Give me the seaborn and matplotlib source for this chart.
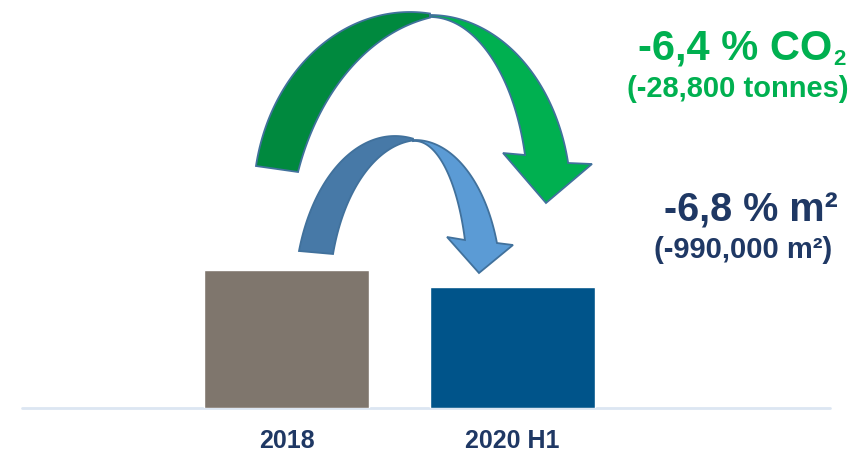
import numpy as np
import pandas as pd
import matplotlib
matplotlib.use("Agg")
import matplotlib.pyplot as plt
import seaborn as sns
from matplotlib.patches import Polygon
from matplotlib.transforms import Affine2D

# ---- data ----
categories = ["2018", "2020 H1"]
values = [100.0, 87.7]
bar_colors = ["#7F766D", "#00548A"]
co2_main = "-6,4 % CO"
co2_sub = "2"
co2_detail = "(-28,800 tonnes)"
area_main = "-6,8 % m²"
area_detail = "(-990,000 m²)"

GREEN = "#00B050"
NAVY = "#1F3864"

sns.set_theme(style="white")
plt.rcParams["font.family"] = ["Liberation Sans", "DejaVu Sans"]

W, H = 856, 454
fig = plt.figure(figsize=(W / 100, H / 100), dpi=100)
ax = fig.add_axes([22 / W, 46 / H, 808 / W, 408 / H])

df = pd.DataFrame({"period": categories, "value": values})
sns.barplot(data=df, x="period", y="value", hue="period", palette=bar_colors,
            width=0.73, saturation=1, legend=False, ax=ax, zorder=3)
ax.set_xlim(-1.1704, 2.4049)
ax.set_ylim(0, 295.65)
for s in ax.spines.values():
    s.set_visible(False)
ax.axhline(0, color="#DCE6F2", lw=2, zorder=1, clip_on=False)
ax.set_yticks([])
ax.set_xlabel("")
ax.set_ylabel("")
ax.tick_params(axis="x", length=0, pad=15, labelsize=18, labelcolor=NAVY)
for lbl in ax.get_xticklabels():
    lbl.set_fontweight("bold")

# pixel transform (origin top-left) for decorations
pix = Affine2D().scale(1 / W, -1 / H).translate(0, 1) + fig.transFigure


def ell(cx, cy, a, b, t0, t1, n=90):
    t = np.linspace(t0, t1, n)
    return np.column_stack([cx + a * np.cos(t), cy - b * np.sin(t)])


def t_x(cx, a, x):
    return np.arccos(np.clip((x - cx) / a, -1, 1))


def t_yl(cy, b, y):
    return np.pi - np.arcsin((cy - y) / b)


def t_yr(cy, b, y):
    return np.arcsin((cy - y) / b)


EDGE = "#41719C"


def add_poly(pts, color):
    p = Polygon(pts, closed=True, facecolor=color, edgecolor=EDGE, lw=1.3,
                joinstyle="miter", transform=pix, zorder=5)
    fig.add_artist(p)


# green arrow
g_lo = ell(410, 200, 156.6, 188, t_yl(200, 188, 166), t_x(410, 156.6, 430))
g_li = ell(460, 250, 171.6, 236, t_yl(250, 236, 172), t_x(460, 171.6, 430))
add_poly(np.vstack([g_lo, g_li[::-1]]), "#00893E")
g_ro = ell(430, 200, 141, 185, np.pi / 2, t_yr(200, 185, 163))
g_ri = ell(430, 200, 98, 183, np.pi / 2, t_yr(200, 183, 155))
g_head = np.array([[592, 164], [546, 203], [503, 153]])
add_poly(np.vstack([g_ro, g_head, g_ri[::-1]]), "#00B050")

# blue arrow
b_lo = ell(395, 300, 100.6, 164, t_yl(300, 164, 251), t_x(395, 100.6, 413))
b_li = ell(420, 300, 90.8, 160, t_yl(300, 160, 254), t_x(420, 90.8, 413))
add_poly(np.vstack([b_lo, b_li[::-1]]), "#4779A7")
b_ro = ell(415, 290, 86.3, 150, t_x(415, 86.3, 413), t_yr(290, 150, 243))
b_ri = ell(415, 290, 53, 149, t_x(415, 53, 413), t_yr(290, 149, 240))
b_head = np.array([[513, 245], [479, 273], [447, 237]])
add_poly(np.vstack([b_ro, b_head, b_ri[::-1]]), "#5B9BD5")

# annotations
fig.text(832, 59.5, co2_main, ha="right", va="baseline", fontsize=30,
         fontweight="bold", color=GREEN, transform=pix)
fig.text(833, 65, co2_sub, ha="left", va="baseline", fontsize=16,
         fontweight="bold", color=GREEN, transform=pix)
fig.text(738, 97, co2_detail, ha="center", va="baseline", fontsize=21,
         fontweight="bold", color=GREEN, transform=pix)
fig.text(838, 222, area_main, ha="right", va="baseline", fontsize=28.5,
         fontweight="bold", color=NAVY, transform=pix)
fig.text(743, 258, area_detail, ha="center", va="baseline", fontsize=21,
         fontweight="bold", color=NAVY, transform=pix)

fig.savefig("out.png", dpi=100)
